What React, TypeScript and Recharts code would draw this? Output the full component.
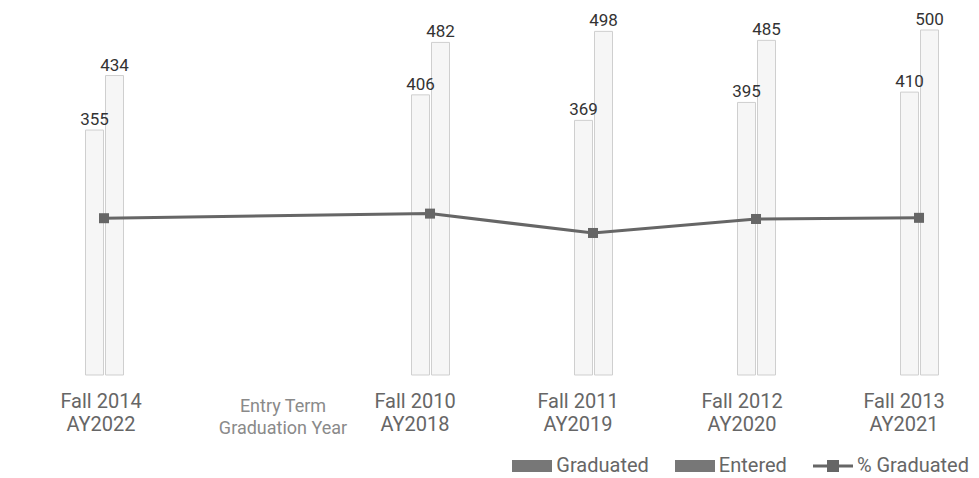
import {
  ComposedChart,
  Bar,
  Line,
  XAxis,
  YAxis,
  Legend,
  LabelList
} from 'recharts';

// slot 1 holds the axis title, no data there
const entryTerms = ['Fall 2014', 'Entry Term', 'Fall 2010', 'Fall 2011', 'Fall 2012', 'Fall 2013'];
const gradYears = ['AY2022', 'Graduation Year', 'AY2018', 'AY2019', 'AY2020', 'AY2021'];
const entered = [434, null, 482, 498, 485, 500];
const graduated = [355, null, 406, 369, 395, 410];
const pctGraduated = [81.8, null, 84.2, 74.1, 81.4, 82.0];

const data = entryTerms.map((t, i) => ({
  idx: i,
  entered: entered[i],
  graduated: graduated[i],
  pct: pctGraduated[i]
}));

const font = 'Roboto, "Noto Sans", sans-serif';

// labels sit a little left of their bar groups
const labelShift = [-3, 16, -15, -15, -14, -15];

const TermTick = (props: any) => {
  const { x, y, payload } = props;
  const i = payload.value;
  const isTitle = i === 1;
  return (
    <g transform={`translate(${x + labelShift[i]},${y})`}>
      <text
        textAnchor="middle"
        fill={isTitle ? '#8a8a8a' : '#666'}
        fontFamily={font}
        fontSize={isTitle ? 18 : 20}
      >
        <tspan x={0} dy={isTitle ? 29 : 25}>{entryTerms[i]}</tspan>
        <tspan x={0} dy={isTitle ? 22 : 23}>{gradYears[i]}</tspan>
      </text>
    </g>
  );
};

const LegendBox = () => (
  <div
    style={{
      display: 'flex',
      justifyContent: 'flex-end',
      gap: 26,
      fontFamily: font,
      fontSize: 20,
      lineHeight: '21px',
      color: '#666',
      paddingRight: 10,
      paddingTop: 20
    }}
  >
    <span style={{ display: 'flex', alignItems: 'center', gap: 4 }}>
      <span style={{ width: 40, height: 12, background: '#777' }} />
      Graduated
    </span>
    <span style={{ display: 'flex', alignItems: 'center', gap: 4 }}>
      <span style={{ width: 40, height: 12, background: '#777' }} />
      Entered
    </span>
    <span style={{ display: 'flex', alignItems: 'center', gap: 4 }}>
      <svg width={40} height={14}>
        <line x1={0} y1={7} x2={40} y2={7} stroke="#666" strokeWidth={3} />
        <rect x={14} y={1} width={12} height={12} fill="#666" />
      </svg>
      % Graduated
    </span>
  </div>
);

export default function App() {
  return (
    <div style={{ width: 971, height: 470 }}>
      <ComposedChart
        width={971}
        height={470}
        data={data}
        margin={{ top: 22, right: 0, left: 0, bottom: 0 }}
        barGap={2}
      >
        <XAxis
          type="number"
          dataKey="idx"
          domain={[-0.589, 5.368]}
          ticks={[0, 1, 2, 3, 4, 5]}
          allowDataOverflow
          axisLine={false}
          tickLine={false}
          height={60}
          tick={<TermTick />}
        />
        <YAxis yAxisId="count" domain={[0, 500]} hide />
        <YAxis yAxisId="pct" orientation="right" domain={[0, 180]} hide />
        <Legend verticalAlign="bottom" height={43} content={<LegendBox />} />
        <Bar
          yAxisId="count"
          dataKey="graduated"
          name="Graduated"
          barSize={18}
          fill="#f6f6f6"
          stroke="#cfcfcf"
          isAnimationActive={false}
        >
          <LabelList dataKey="graduated" position="top" fill="#333" fontSize={17} fontFamily={font} />
        </Bar>
        <Bar
          yAxisId="count"
          dataKey="entered"
          name="Entered"
          barSize={18}
          fill="#f6f6f6"
          stroke="#cfcfcf"
          isAnimationActive={false}
        >
          <LabelList dataKey="entered" position="top" fill="#333" fontSize={17} fontFamily={font} />
        </Bar>
        <Line
          yAxisId="pct"
          dataKey="pct"
          name="% Graduated"
          stroke="#666"
          strokeWidth={3}
          connectNulls
          dot={(p: any) =>
            p.value == null ? <g key={p.index} /> : (
              <rect key={p.index} x={p.cx - 5} y={p.cy - 5} width={10} height={10} fill="#666" />
            )
          }
          isAnimationActive={false}
        />
      </ComposedChart>
    </div>
  );
}
